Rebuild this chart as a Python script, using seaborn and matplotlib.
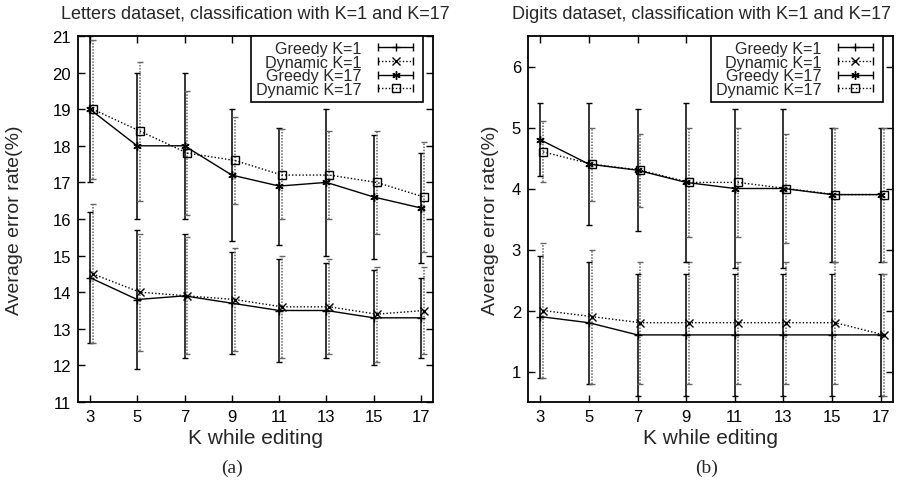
import pandas as pd
import seaborn as sns
import matplotlib.pyplot as plt
from matplotlib.lines import Line2D
from matplotlib.legend_handler import HandlerLine2D, HandlerTuple

# valores (media, extremo inferior y superior de cada barra)
ks = [3, 5, 7, 9, 11, 13, 15, 17]
series = ['Greedy K=1', 'Dynamic K=1', 'Greedy K=17', 'Dynamic K=17']

letters_greedy1 = [14.4, 13.8, 13.9, 13.7, 13.5, 13.5, 13.3, 13.3]
letters_greedy1_lo = [12.6, 11.9, 12.2, 12.3, 12.1, 12.2, 12.0, 12.2]
letters_greedy1_hi = [16.2, 15.7, 15.6, 15.1, 14.9, 14.8, 14.6, 14.4]
letters_dyn1 = [14.5, 14.0, 13.9, 13.8, 13.6, 13.6, 13.4, 13.5]
letters_dyn1_lo = [12.6, 12.4, 12.3, 12.4, 12.2, 12.3, 12.1, 12.3]
letters_dyn1_hi = [16.4, 15.6, 15.5, 15.2, 15.0, 14.9, 14.7, 14.7]
letters_greedy17 = [19.0, 18.0, 18.0, 17.2, 16.9, 17.0, 16.6, 16.3]
letters_greedy17_lo = [17.0, 16.0, 16.0, 15.4, 15.3, 15.0, 14.9, 14.8]
letters_greedy17_hi = [21.0, 20.0, 20.0, 19.0, 18.5, 19.0, 18.3, 17.8]
letters_dyn17 = [19.0, 18.4, 17.8, 17.6, 17.2, 17.2, 17.0, 16.6]
letters_dyn17_lo = [17.1, 16.5, 16.1, 16.4, 16.0, 16.0, 15.6, 15.1]
letters_dyn17_hi = [20.9, 20.3, 19.5, 18.8, 18.45, 18.4, 18.4, 18.1]

digits_greedy1 = [1.9, 1.8, 1.6, 1.6, 1.6, 1.6, 1.6, 1.6]
digits_greedy1_lo = [0.9, 0.8, 0.6, 0.6, 0.6, 0.6, 0.6, 0.6]
digits_greedy1_hi = [2.9, 2.8, 2.6, 2.6, 2.6, 2.6, 2.6, 2.6]
digits_dyn1 = [2.0, 1.9, 1.8, 1.8, 1.8, 1.8, 1.8, 1.6]
digits_dyn1_lo = [0.9, 0.8, 0.8, 0.8, 0.8, 0.8, 0.8, 0.6]
digits_dyn1_hi = [3.1, 3.0, 2.8, 2.8, 2.8, 2.8, 2.8, 2.6]
digits_greedy17 = [4.8, 4.4, 4.3, 4.1, 4.0, 4.0, 3.9, 3.9]
digits_greedy17_lo = [4.2, 3.4, 3.3, 2.8, 2.7, 2.7, 2.8, 2.8]
digits_greedy17_hi = [5.4, 5.4, 5.3, 5.4, 5.3, 5.3, 5.0, 5.0]
digits_dyn17 = [4.6, 4.4, 4.3, 4.1, 4.1, 4.0, 3.9, 3.9]
digits_dyn17_lo = [4.1, 3.8, 3.7, 3.2, 3.2, 3.1, 2.8, 2.8]
digits_dyn17_hi = [5.1, 5.0, 4.9, 5.0, 5.0, 4.9, 5.0, 5.0]

# desplazamiento horizontal de las curvas "Dynamic" (como en el original)
dyn_shift = 0.12

sns.set_theme(style='ticks')
plt.rcParams['font.family'] = ['Liberation Sans', 'DejaVu Sans']

markers = {'Greedy K=1': '+', 'Dynamic K=1': 'x',
           'Greedy K=17': (6, 2, 0), 'Dynamic K=17': 's'}
punteado = (0, (1, 1.5))


def armar_df(vals):
    filas = []
    for nombre, (media, lo, hi) in zip(series, vals):
        shift = dyn_shift if nombre.startswith('Dynamic') else 0.0
        for k, m, a, b in zip(ks, media, lo, hi):
            filas.append({'k': k + shift, 'err': m, 'lo': a, 'hi': b, 'serie': nombre})
    return pd.DataFrame(filas)


def panel(ax, df, titulo, ylim, yticks, title_x=0.5):
    for nombre in series:
        d = df[df['serie'] == nombre]
        dyn = nombre.startswith('Dynamic')
        # barras de error
        cont = ax.errorbar(d['k'], d['err'], yerr=[d['err'] - d['lo'], d['hi'] - d['err']],
                           fmt='none', ecolor='0.4' if dyn else 'black',
                           elinewidth=1.1, capsize=2.2, capthick=1.0, zorder=2)
        if dyn:
            cont.lines[2][0].set_linestyle((0, (1, 1)))
        # curva con marcadores
        sns.lineplot(data=d, x='k', y='err', color='black', ax=ax,
                     marker=markers[nombre], markersize=6, markeredgewidth=1.0,
                     markerfacecolor='none' if markers[nombre] == 's' else 'black',
                     markeredgecolor='black',
                     linestyle=punteado if dyn else '-', linewidth=1.0, zorder=3)
    ax.set_xlim(2.5, 17.5)
    ax.set_ylim(*ylim)
    ax.set_xticks(ks)
    ax.set_yticks(yticks)
    ax.tick_params(direction='in', top=True, right=True, length=5, width=1,
                   labelsize=12, pad=5, colors='black')
    for s in ax.spines.values():
        s.set_linewidth(1.3)
        s.set_color('black')
    ax.set_title(titulo, fontsize=13, pad=13, x=title_x)
    ax.set_xlabel('K while editing', fontsize=15)
    ax.set_ylabel('Average error rate(%)', fontsize=14)
    ax.xaxis.set_label_coords(0.5, -0.072)

    # leyenda estilo gnuplot: texto alineado a la derecha, muestra con topes
    handles = []
    hmap = {}
    for nombre in series:
        dyn = nombre.startswith('Dynamic')
        caps = Line2D([], [], color='black', linestyle=punteado if dyn else '-',
                      linewidth=1.0, marker='|', markersize=6, markeredgewidth=1.0)
        centro = Line2D([], [], color='black', linestyle='none', marker=markers[nombre],
                        markersize=6, markeredgewidth=1.0,
                        markerfacecolor='none' if markers[nombre] == 's' else 'black')
        hmap[caps] = HandlerLine2D(numpoints=2)
        handles.append((caps, centro))
    hmap[tuple] = HandlerTuple(ndivide=1, pad=0)
    leg = ax.legend(handles, series, handler_map=hmap, loc='upper right',
                    bbox_to_anchor=(0.972, 1.0), borderaxespad=0, fontsize=11.6,
                    markerfirst=False, handlelength=2.8, handletextpad=0.7,
                    labelspacing=-0.08, borderpad=0.3, fancybox=False,
                    framealpha=1, edgecolor='black')
    leg.get_frame().set_linewidth(1.2)
    leg._legend_box.align = 'right'


fig = plt.figure(figsize=(9.04, 4.85), dpi=100)
ax1 = fig.add_axes([78 / 904, 1 - 403 / 485, 355 / 904, 366 / 485])
ax2 = fig.add_axes([528 / 904, 1 - 403 / 485, 365 / 904, 366 / 485])

df_letters = armar_df([
    (letters_greedy1, letters_greedy1_lo, letters_greedy1_hi),
    (letters_dyn1, letters_dyn1_lo, letters_dyn1_hi),
    (letters_greedy17, letters_greedy17_lo, letters_greedy17_hi),
    (letters_dyn17, letters_dyn17_lo, letters_dyn17_hi),
])
df_digits = armar_df([
    (digits_greedy1, digits_greedy1_lo, digits_greedy1_hi),
    (digits_dyn1, digits_dyn1_lo, digits_dyn1_hi),
    (digits_greedy17, digits_greedy17_lo, digits_greedy17_hi),
    (digits_dyn17, digits_dyn17_lo, digits_dyn17_hi),
])

panel(ax1, df_letters, 'Letters dataset, classification with K=1 and K=17',
      (11, 21), range(11, 22))
panel(ax2, df_digits, 'Digits dataset, classification with K=1 and K=17',
      (0.5, 6.5), range(1, 7), title_x=0.475)
ax1.yaxis.set_label_coords(-0.155, 0.5)
ax2.yaxis.set_label_coords(-0.08, 0.5)

fig.text(232 / 904, 1 - 468 / 485, '(a)', family='Liberation Serif', fontsize=14,
         ha='center', va='center')
fig.text(707 / 904, 1 - 468 / 485, '(b)', family='Liberation Serif', fontsize=14,
         ha='center', va='center')

fig.savefig('out.png', dpi=100)
